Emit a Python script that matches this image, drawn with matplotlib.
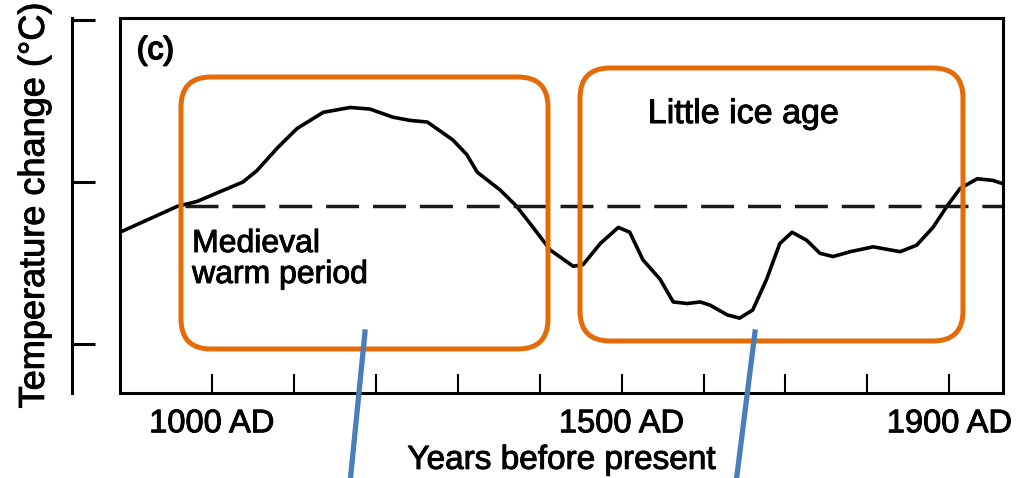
import numpy as np
import matplotlib.pyplot as plt
import matplotlib.patheffects as pe
from matplotlib.patches import FancyBboxPatch
from matplotlib.lines import Line2D
from matplotlib.transforms import IdentityTransform

# curva de temperatura (unidades de tick)
years = [888, 958, 982, 1038, 1055, 1080, 1104, 1136, 1169, 1193, 1221, 1242, 1263,
         1294, 1311, 1324, 1352, 1372, 1392, 1413, 1441, 1453, 1474, 1496, 1510,
         1526, 1547, 1563, 1580, 1596, 1608, 1629, 1644, 1660, 1677, 1693, 1708,
         1726, 1742, 1758, 1779, 1807, 1840, 1860, 1880, 1897, 1913, 1934, 1953, 1965]
temp = [-0.31, -0.15, -0.12, 0.0, 0.07, 0.21, 0.33, 0.43, 0.46, 0.45, 0.40, 0.38, 0.37,
        0.26, 0.17, 0.06, -0.05, -0.15, -0.28, -0.42, -0.52, -0.51, -0.38, -0.28, -0.31,
        -0.48, -0.60, -0.74, -0.75, -0.74, -0.76, -0.82, -0.84, -0.79, -0.60, -0.38, -0.31,
        -0.36, -0.44, -0.46, -0.43, -0.40, -0.43, -0.39, -0.28, -0.15, -0.04, 0.02, 0.01, -0.01]

# linea de referencia discontinua
ref_years = [967, 1965]
ref_level = -0.15

tick_years = [1000, 1100, 1200, 1300, 1400, 1500, 1600, 1700, 1800, 1900]
tick_labels = ["1000 AD", "", "", "", "", "1500 AD", "", "", "", "1900 AD"]
y_ticks = [-1, 0, 1]

plt.rcParams['font.family'] = ['Liberation Sans', 'DejaVu Sans']
bold_fx = [pe.withStroke(linewidth=0.7, foreground='black')]

W, H = 1020, 478
fig = plt.figure(figsize=(W / 100, H / 100), dpi=100)


def fr(x0, y0, x1, y1):
    return [x0 / W, 1 - y1 / H, (x1 - x0) / W, (y1 - y0) / H]


ax = fig.add_axes(fr(120, 18, 1003, 393))
ax.plot(years, temp, color='black', lw=2.6, solid_joinstyle='round', solid_capstyle='round')
ax.plot(ref_years, [ref_level, ref_level], color='#1a1a1a', lw=2.5, dashes=(9.5, 4))
ax.set_xlim(888, 1965.4)
ax.set_ylim(-1.302, 1.012)
ax.set_xticks(tick_years)
ax.set_xticklabels(tick_labels)
ax.set_yticks([])
ax.tick_params(axis='x', direction='in', length=14, width=1.5, pad=11, labelsize=23.5)
for lab in ax.get_xticklabels():
    lab.set_path_effects(bold_fx)
for s in ax.spines.values():
    s.set_linewidth(2.2)
ax.set_xlabel('Years before present', fontsize=24, labelpad=4, path_effects=bold_fx)

ax.text(0.019, 0.912, '(c)', transform=ax.transAxes, fontsize=23, va='center', ha='left',
        path_effects=[pe.withStroke(linewidth=1.2, foreground='black')])
ax.text(976, -0.432, 'Medieval', fontsize=23, va='baseline', path_effects=bold_fx)
ax.text(976, -0.623, 'warm period', fontsize=23, va='baseline', path_effects=bold_fx)
ax.text(1532, 0.364, 'Little ice age', fontsize=24.5, va='baseline', path_effects=bold_fx)

# eje y separado
ax_y = fig.add_axes(fr(72, 18, 90, 393))
ax_y.set_ylim(ax.get_ylim())
ax_y.patch.set_visible(False)
for k in ['top', 'right', 'bottom']:
    ax_y.spines[k].set_visible(False)
ax_y.spines['left'].set_linewidth(2.2)
ax_y.set_xticks([])
ax_y.set_yticks(y_ticks)
ax_y.set_yticklabels([])
ax_y.tick_params(axis='y', direction='in', length=16.5, width=2.2)
ax_y.set_ylabel('Temperature change (°C)', fontsize=26, labelpad=11, path_effects=bold_fx)

# recuadros naranjas y lineas azules
orange = '#E36C09'
for x0, top, x1, bot in [(181, 77, 548, 349), (580, 68, 963, 341)]:
    p = FancyBboxPatch((x0, H - bot), x1 - x0, bot - top,
                       boxstyle='round,pad=0,rounding_size=30',
                       fill=False, ec=orange, lw=3.6, transform=IdentityTransform())
    fig.add_artist(p)

blue = '#4A7EBB'
for (xa, ya), (xb, yb) in [((365, 332), (350, 483)), ((755, 332), (736, 483))]:
    fig.add_artist(Line2D([xa, xb], [H - ya, H - yb], color=blue, lw=3.8,
                          transform=IdentityTransform()))

fig.savefig('out.png', dpi=100)
